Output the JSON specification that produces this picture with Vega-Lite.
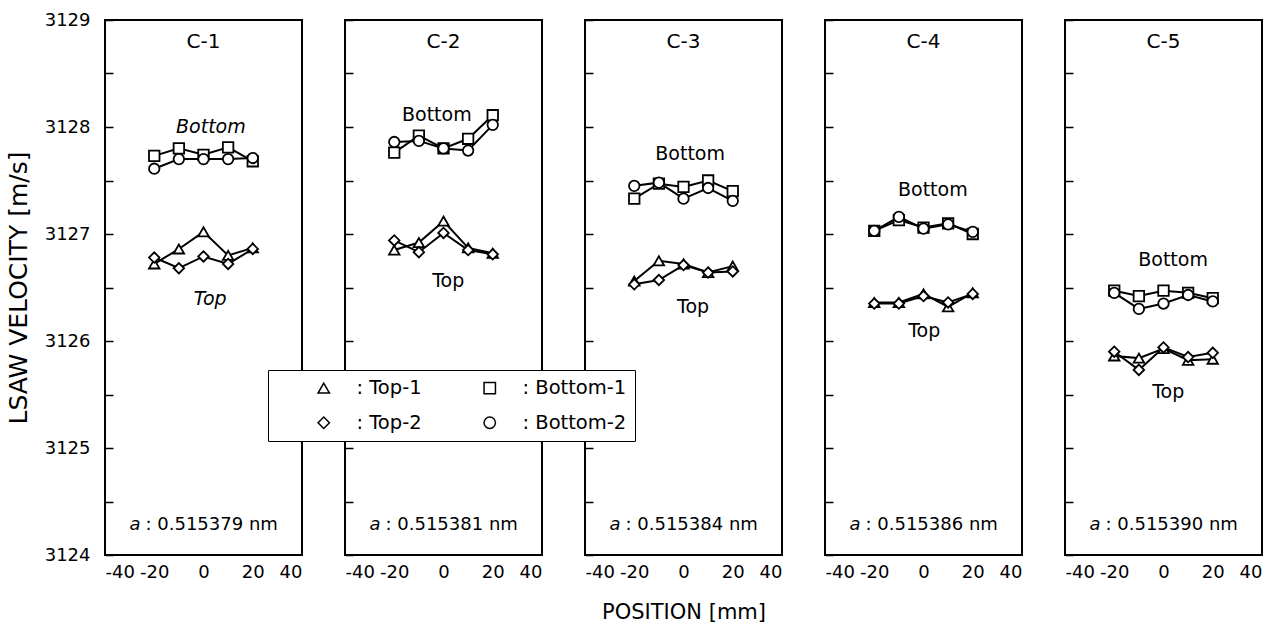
{
  "$schema": "https://vega.github.io/schema/vega-lite/v6.json",
  "background": "white",
  "padding": {"left": 5, "top": 10, "right": 5, "bottom": 2},
  "bounds": "flush",
  "spacing": 43,
  "config": {
    "font": "DejaVu Sans",
    "view": {"stroke": "black", "strokeWidth": 2},
    "axis": {"labelColor": "black", "titleColor": "black", "titleFontWeight": "normal", "grid": false, "domain": false}
  },
  "resolve": {"scale": {"shape": "shared"}, "legend": {"shape": "shared"}},
  "data": {"values": [
    {"p":"C-1","s":"Top-1","x":-20,"v":3126.72},{"p":"C-1","s":"Top-1","x":-10,"v":3126.86},{"p":"C-1","s":"Top-1","x":0,"v":3127.02},{"p":"C-1","s":"Top-1","x":10,"v":3126.80},{"p":"C-1","s":"Top-1","x":20,"v":3126.87},
    {"p":"C-1","s":"Top-2","x":-20,"v":3126.78},{"p":"C-1","s":"Top-2","x":-10,"v":3126.68},{"p":"C-1","s":"Top-2","x":0,"v":3126.79},{"p":"C-1","s":"Top-2","x":10,"v":3126.72},{"p":"C-1","s":"Top-2","x":20,"v":3126.86},
    {"p":"C-1","s":"Bottom-1","x":-20,"v":3127.73},{"p":"C-1","s":"Bottom-1","x":-10,"v":3127.80},{"p":"C-1","s":"Bottom-1","x":0,"v":3127.74},{"p":"C-1","s":"Bottom-1","x":10,"v":3127.81},{"p":"C-1","s":"Bottom-1","x":20,"v":3127.68},
    {"p":"C-1","s":"Bottom-2","x":-20,"v":3127.61},{"p":"C-1","s":"Bottom-2","x":-10,"v":3127.70},{"p":"C-1","s":"Bottom-2","x":0,"v":3127.70},{"p":"C-1","s":"Bottom-2","x":10,"v":3127.70},{"p":"C-1","s":"Bottom-2","x":20,"v":3127.71},

    {"p":"C-2","s":"Top-1","x":-20,"v":3126.85},{"p":"C-2","s":"Top-1","x":-10,"v":3126.92},{"p":"C-2","s":"Top-1","x":0,"v":3127.12},{"p":"C-2","s":"Top-1","x":10,"v":3126.87},{"p":"C-2","s":"Top-1","x":20,"v":3126.82},
    {"p":"C-2","s":"Top-2","x":-20,"v":3126.94},{"p":"C-2","s":"Top-2","x":-10,"v":3126.83},{"p":"C-2","s":"Top-2","x":0,"v":3127.01},{"p":"C-2","s":"Top-2","x":10,"v":3126.85},{"p":"C-2","s":"Top-2","x":20,"v":3126.81},
    {"p":"C-2","s":"Bottom-1","x":-20,"v":3127.76},{"p":"C-2","s":"Bottom-1","x":-10,"v":3127.92},{"p":"C-2","s":"Bottom-1","x":0,"v":3127.80},{"p":"C-2","s":"Bottom-1","x":10,"v":3127.89},{"p":"C-2","s":"Bottom-1","x":20,"v":3128.11},
    {"p":"C-2","s":"Bottom-2","x":-20,"v":3127.86},{"p":"C-2","s":"Bottom-2","x":-10,"v":3127.87},{"p":"C-2","s":"Bottom-2","x":0,"v":3127.80},{"p":"C-2","s":"Bottom-2","x":10,"v":3127.78},{"p":"C-2","s":"Bottom-2","x":20,"v":3128.02},

    {"p":"C-3","s":"Top-1","x":-20,"v":3126.56},{"p":"C-3","s":"Top-1","x":-10,"v":3126.75},{"p":"C-3","s":"Top-1","x":0,"v":3126.72},{"p":"C-3","s":"Top-1","x":10,"v":3126.64},{"p":"C-3","s":"Top-1","x":20,"v":3126.70},
    {"p":"C-3","s":"Top-2","x":-20,"v":3126.53},{"p":"C-3","s":"Top-2","x":-10,"v":3126.57},{"p":"C-3","s":"Top-2","x":0,"v":3126.71},{"p":"C-3","s":"Top-2","x":10,"v":3126.64},{"p":"C-3","s":"Top-2","x":20,"v":3126.65},
    {"p":"C-3","s":"Bottom-1","x":-20,"v":3127.33},{"p":"C-3","s":"Bottom-1","x":-10,"v":3127.47},{"p":"C-3","s":"Bottom-1","x":0,"v":3127.44},{"p":"C-3","s":"Bottom-1","x":10,"v":3127.50},{"p":"C-3","s":"Bottom-1","x":20,"v":3127.40},
    {"p":"C-3","s":"Bottom-2","x":-20,"v":3127.45},{"p":"C-3","s":"Bottom-2","x":-10,"v":3127.48},{"p":"C-3","s":"Bottom-2","x":0,"v":3127.33},{"p":"C-3","s":"Bottom-2","x":10,"v":3127.43},{"p":"C-3","s":"Bottom-2","x":20,"v":3127.31},

    {"p":"C-4","s":"Top-1","x":-20,"v":3126.36},{"p":"C-4","s":"Top-1","x":-10,"v":3126.36},{"p":"C-4","s":"Top-1","x":0,"v":3126.44},{"p":"C-4","s":"Top-1","x":10,"v":3126.32},{"p":"C-4","s":"Top-1","x":20,"v":3126.45},
    {"p":"C-4","s":"Top-2","x":-20,"v":3126.35},{"p":"C-4","s":"Top-2","x":-10,"v":3126.35},{"p":"C-4","s":"Top-2","x":0,"v":3126.42},{"p":"C-4","s":"Top-2","x":10,"v":3126.36},{"p":"C-4","s":"Top-2","x":20,"v":3126.44},
    {"p":"C-4","s":"Bottom-1","x":-20,"v":3127.03},{"p":"C-4","s":"Bottom-1","x":-10,"v":3127.13},{"p":"C-4","s":"Bottom-1","x":0,"v":3127.06},{"p":"C-4","s":"Bottom-1","x":10,"v":3127.10},{"p":"C-4","s":"Bottom-1","x":20,"v":3127.00},
    {"p":"C-4","s":"Bottom-2","x":-20,"v":3127.03},{"p":"C-4","s":"Bottom-2","x":-10,"v":3127.16},{"p":"C-4","s":"Bottom-2","x":0,"v":3127.05},{"p":"C-4","s":"Bottom-2","x":10,"v":3127.09},{"p":"C-4","s":"Bottom-2","x":20,"v":3127.02},

    {"p":"C-5","s":"Top-1","x":-20,"v":3125.86},{"p":"C-5","s":"Top-1","x":-10,"v":3125.84},{"p":"C-5","s":"Top-1","x":0,"v":3125.93},{"p":"C-5","s":"Top-1","x":10,"v":3125.82},{"p":"C-5","s":"Top-1","x":20,"v":3125.83},
    {"p":"C-5","s":"Top-2","x":-20,"v":3125.90},{"p":"C-5","s":"Top-2","x":-10,"v":3125.73},{"p":"C-5","s":"Top-2","x":0,"v":3125.94},{"p":"C-5","s":"Top-2","x":10,"v":3125.85},{"p":"C-5","s":"Top-2","x":20,"v":3125.89},
    {"p":"C-5","s":"Bottom-1","x":-20,"v":3126.47},{"p":"C-5","s":"Bottom-1","x":-10,"v":3126.42},{"p":"C-5","s":"Bottom-1","x":0,"v":3126.47},{"p":"C-5","s":"Bottom-1","x":10,"v":3126.45},{"p":"C-5","s":"Bottom-1","x":20,"v":3126.40},
    {"p":"C-5","s":"Bottom-2","x":-20,"v":3126.45},{"p":"C-5","s":"Bottom-2","x":-10,"v":3126.30},{"p":"C-5","s":"Bottom-2","x":0,"v":3126.35},{"p":"C-5","s":"Bottom-2","x":10,"v":3126.43},{"p":"C-5","s":"Bottom-2","x":20,"v":3126.37}
  ]},
  "hconcat": [
    {
      "width": 197, "height": 535,
      "transform": [{"filter": "datum.p === 'C-1'"}],
      "layer": [
        {"mark": {"type": "line", "color": "black", "strokeWidth": 2},
         "encoding": {
           "x": {"field": "x", "type": "quantitative", "scale": {"domain": [-40, 40], "nice": false},
                 "axis": {"values": [-40, -20, 0, 20, 40], "ticks": false, "labelExpr": "'' + datum.value", "labelFontSize": 18, "labelPadding": 8, "title": null}},
           "y": {"field": "v", "type": "quantitative", "scale": {"domain": [3124, 3129], "nice": false, "zero": false},
                 "axis": {"values": [3124, 3124.5, 3125, 3125.5, 3126, 3126.5, 3127, 3127.5, 3128, 3128.5, 3129], "tickSize": -8, "tickColor": "black", "tickWidth": 1.5,
                          "labelExpr": "datum.value % 1 === 0 ? '' + datum.value : ''", "labelFontSize": 18, "labelPadding": 23,
                          "title": "LSAW VELOCITY [m/s]", "titleFontSize": 25, "titlePadding": 13}},
           "detail": {"field": "s"}}},
        {"mark": {"type": "point", "filled": true, "fill": "white", "stroke": "black", "strokeWidth": 1.8, "size": 110, "opacity": 1},
         "encoding": {
           "x": {"field": "x", "type": "quantitative"},
           "y": {"field": "v", "type": "quantitative"},
           "shape": {"field": "s", "type": "nominal",
             "scale": {"domain": ["Top-1", "Top-2", "Bottom-1", "Bottom-2"], "range": ["triangle-up", "diamond", "square", "circle"]},
             "legend": {"orient": "none", "legendX": 163, "legendY": 350, "columns": 2, "title": null,
               "symbolSize": 130, "symbolOffset": 38,
               "labelFontSize": 19.5, "labelColor": "black", "labelExpr": "': ' + datum.label", "labelOffset": 23,
               "strokeColor": "black", "fillColor": "white", "padding": 8, "rowPadding": 14, "columnPadding": 20}}}},
        {"data": {"values": [{}]}, "mark": {"type": "text", "text": "C-1", "fontSize": 20, "color": "black"}, "encoding": {"x": {"datum": 0}, "y": {"datum": 3128.79}}},
        {"data": {"values": [{}]}, "mark": {"type": "text", "text": "Bottom", "fontSize": 19, "fontStyle": "italic", "color": "black"}, "encoding": {"x": {"datum": 3}, "y": {"datum": 3128.0}}},
        {"data": {"values": [{}]}, "mark": {"type": "text", "text": "Top", "fontSize": 19, "fontStyle": "italic", "color": "black"}, "encoding": {"x": {"datum": 2.7}, "y": {"datum": 3126.39}}},
        {"data": {"values": [{}]}, "mark": {"type": "text", "text": "a", "fontSize": 18, "fontStyle": "italic", "align": "left", "dx": -74, "color": "black"}, "encoding": {"x": {"datum": 0}, "y": {"datum": 3124.28}}},
        {"data": {"values": [{}]}, "mark": {"type": "text", "text": ": 0.515379 nm", "fontSize": 18, "align": "left", "dx": -58, "color": "black"}, "encoding": {"x": {"datum": 0}, "y": {"datum": 3124.28}}}
      ]
    },
    {
      "width": 197, "height": 535,
      "transform": [{"filter": "datum.p === 'C-2'"}],
      "layer": [
        {"mark": {"type": "line", "color": "black", "strokeWidth": 2},
         "encoding": {
           "x": {"field": "x", "type": "quantitative", "scale": {"domain": [-40, 40], "nice": false},
                 "axis": {"values": [-40, -20, 0, 20, 40], "ticks": false, "labelExpr": "'' + datum.value", "labelFontSize": 18, "labelPadding": 8, "title": null}},
           "y": {"field": "v", "type": "quantitative", "scale": {"domain": [3124, 3129], "nice": false, "zero": false},
                 "axis": {"values": [3124, 3124.5, 3125, 3125.5, 3126, 3126.5, 3127, 3127.5, 3128, 3128.5, 3129], "tickSize": -8, "tickColor": "black", "tickWidth": 1.5, "labels": false, "title": null}},
           "detail": {"field": "s"}}},
        {"mark": {"type": "point", "filled": true, "fill": "white", "stroke": "black", "strokeWidth": 1.8, "size": 110, "opacity": 1},
         "encoding": {
           "x": {"field": "x", "type": "quantitative"},
           "y": {"field": "v", "type": "quantitative"},
           "shape": {"field": "s", "type": "nominal", "scale": {"domain": ["Top-1", "Top-2", "Bottom-1", "Bottom-2"], "range": ["triangle-up", "diamond", "square", "circle"]}}}},
        {"data": {"values": [{}]}, "mark": {"type": "text", "text": "C-2", "fontSize": 20, "color": "black"}, "encoding": {"x": {"datum": 0}, "y": {"datum": 3128.79}}},
        {"data": {"values": [{}]}, "mark": {"type": "text", "text": "Bottom", "fontSize": 19, "color": "black"}, "encoding": {"x": {"datum": -2.7}, "y": {"datum": 3128.11}}},
        {"data": {"values": [{}]}, "mark": {"type": "text", "text": "Top", "fontSize": 19, "color": "black"}, "encoding": {"x": {"datum": 1.9}, "y": {"datum": 3126.56}}},
        {"data": {"values": [{}]}, "mark": {"type": "text", "text": "a", "fontSize": 18, "fontStyle": "italic", "align": "left", "dx": -74, "color": "black"}, "encoding": {"x": {"datum": 0}, "y": {"datum": 3124.28}}},
        {"data": {"values": [{}]}, "mark": {"type": "text", "text": ": 0.515381 nm", "fontSize": 18, "align": "left", "dx": -58, "color": "black"}, "encoding": {"x": {"datum": 0}, "y": {"datum": 3124.28}}}
      ]
    },
    {
      "width": 197, "height": 535,
      "transform": [{"filter": "datum.p === 'C-3'"}],
      "layer": [
        {"mark": {"type": "line", "color": "black", "strokeWidth": 2},
         "encoding": {
           "x": {"field": "x", "type": "quantitative", "scale": {"domain": [-40, 40], "nice": false},
                 "axis": {"values": [-40, -20, 0, 20, 40], "ticks": false, "labelExpr": "'' + datum.value", "labelFontSize": 18, "labelPadding": 8, "title": "POSITION [mm]", "titleFontSize": 21, "titlePadding": 20}},
           "y": {"field": "v", "type": "quantitative", "scale": {"domain": [3124, 3129], "nice": false, "zero": false},
                 "axis": {"values": [3124, 3124.5, 3125, 3125.5, 3126, 3126.5, 3127, 3127.5, 3128, 3128.5, 3129], "tickSize": -8, "tickColor": "black", "tickWidth": 1.5, "labels": false, "title": null}},
           "detail": {"field": "s"}}},
        {"mark": {"type": "point", "filled": true, "fill": "white", "stroke": "black", "strokeWidth": 1.8, "size": 110, "opacity": 1},
         "encoding": {
           "x": {"field": "x", "type": "quantitative"},
           "y": {"field": "v", "type": "quantitative"},
           "shape": {"field": "s", "type": "nominal", "scale": {"domain": ["Top-1", "Top-2", "Bottom-1", "Bottom-2"], "range": ["triangle-up", "diamond", "square", "circle"]}}}},
        {"data": {"values": [{}]}, "mark": {"type": "text", "text": "C-3", "fontSize": 20, "color": "black"}, "encoding": {"x": {"datum": 0}, "y": {"datum": 3128.79}}},
        {"data": {"values": [{}]}, "mark": {"type": "text", "text": "Bottom", "fontSize": 19, "color": "black"}, "encoding": {"x": {"datum": 2.7}, "y": {"datum": 3127.75}}},
        {"data": {"values": [{}]}, "mark": {"type": "text", "text": "Top", "fontSize": 19, "color": "black"}, "encoding": {"x": {"datum": 3.9}, "y": {"datum": 3126.32}}},
        {"data": {"values": [{}]}, "mark": {"type": "text", "text": "a", "fontSize": 18, "fontStyle": "italic", "align": "left", "dx": -74, "color": "black"}, "encoding": {"x": {"datum": 0}, "y": {"datum": 3124.28}}},
        {"data": {"values": [{}]}, "mark": {"type": "text", "text": ": 0.515384 nm", "fontSize": 18, "align": "left", "dx": -58, "color": "black"}, "encoding": {"x": {"datum": 0}, "y": {"datum": 3124.28}}}
      ]
    },
    {
      "width": 197, "height": 535,
      "transform": [{"filter": "datum.p === 'C-4'"}],
      "layer": [
        {"mark": {"type": "line", "color": "black", "strokeWidth": 2},
         "encoding": {
           "x": {"field": "x", "type": "quantitative", "scale": {"domain": [-40, 40], "nice": false},
                 "axis": {"values": [-40, -20, 0, 20, 40], "ticks": false, "labelExpr": "'' + datum.value", "labelFontSize": 18, "labelPadding": 8, "title": null}},
           "y": {"field": "v", "type": "quantitative", "scale": {"domain": [3124, 3129], "nice": false, "zero": false},
                 "axis": {"values": [3124, 3124.5, 3125, 3125.5, 3126, 3126.5, 3127, 3127.5, 3128, 3128.5, 3129], "tickSize": -8, "tickColor": "black", "tickWidth": 1.5, "labels": false, "title": null}},
           "detail": {"field": "s"}}},
        {"mark": {"type": "point", "filled": true, "fill": "white", "stroke": "black", "strokeWidth": 1.8, "size": 110, "opacity": 1},
         "encoding": {
           "x": {"field": "x", "type": "quantitative"},
           "y": {"field": "v", "type": "quantitative"},
           "shape": {"field": "s", "type": "nominal", "scale": {"domain": ["Top-1", "Top-2", "Bottom-1", "Bottom-2"], "range": ["triangle-up", "diamond", "square", "circle"]}}}},
        {"data": {"values": [{}]}, "mark": {"type": "text", "text": "C-4", "fontSize": 20, "color": "black"}, "encoding": {"x": {"datum": 0}, "y": {"datum": 3128.79}}},
        {"data": {"values": [{}]}, "mark": {"type": "text", "text": "Bottom", "fontSize": 19, "color": "black"}, "encoding": {"x": {"datum": 3.8}, "y": {"datum": 3127.41}}},
        {"data": {"values": [{}]}, "mark": {"type": "text", "text": "Top", "fontSize": 19, "color": "black"}, "encoding": {"x": {"datum": 0.3}, "y": {"datum": 3126.09}}},
        {"data": {"values": [{}]}, "mark": {"type": "text", "text": "a", "fontSize": 18, "fontStyle": "italic", "align": "left", "dx": -74, "color": "black"}, "encoding": {"x": {"datum": 0}, "y": {"datum": 3124.28}}},
        {"data": {"values": [{}]}, "mark": {"type": "text", "text": ": 0.515386 nm", "fontSize": 18, "align": "left", "dx": -58, "color": "black"}, "encoding": {"x": {"datum": 0}, "y": {"datum": 3124.28}}}
      ]
    },
    {
      "width": 197, "height": 535,
      "transform": [{"filter": "datum.p === 'C-5'"}],
      "layer": [
        {"mark": {"type": "line", "color": "black", "strokeWidth": 2},
         "encoding": {
           "x": {"field": "x", "type": "quantitative", "scale": {"domain": [-40, 40], "nice": false},
                 "axis": {"values": [-40, -20, 0, 20, 40], "ticks": false, "labelExpr": "'' + datum.value", "labelFontSize": 18, "labelPadding": 8, "title": null}},
           "y": {"field": "v", "type": "quantitative", "scale": {"domain": [3124, 3129], "nice": false, "zero": false},
                 "axis": {"values": [3124, 3124.5, 3125, 3125.5, 3126, 3126.5, 3127, 3127.5, 3128, 3128.5, 3129], "tickSize": -8, "tickColor": "black", "tickWidth": 1.5, "labels": false, "title": null}},
           "detail": {"field": "s"}}},
        {"mark": {"type": "point", "filled": true, "fill": "white", "stroke": "black", "strokeWidth": 1.8, "size": 110, "opacity": 1},
         "encoding": {
           "x": {"field": "x", "type": "quantitative"},
           "y": {"field": "v", "type": "quantitative"},
           "shape": {"field": "s", "type": "nominal", "scale": {"domain": ["Top-1", "Top-2", "Bottom-1", "Bottom-2"], "range": ["triangle-up", "diamond", "square", "circle"]}}}},
        {"data": {"values": [{}]}, "mark": {"type": "text", "text": "C-5", "fontSize": 20, "color": "black"}, "encoding": {"x": {"datum": 0}, "y": {"datum": 3128.79}}},
        {"data": {"values": [{}]}, "mark": {"type": "text", "text": "Bottom", "fontSize": 19, "color": "black"}, "encoding": {"x": {"datum": 3.9}, "y": {"datum": 3126.76}}},
        {"data": {"values": [{}]}, "mark": {"type": "text", "text": "Top", "fontSize": 19, "color": "black"}, "encoding": {"x": {"datum": 1.9}, "y": {"datum": 3125.52}}},
        {"data": {"values": [{}]}, "mark": {"type": "text", "text": "a", "fontSize": 18, "fontStyle": "italic", "align": "left", "dx": -74, "color": "black"}, "encoding": {"x": {"datum": 0}, "y": {"datum": 3124.28}}},
        {"data": {"values": [{}]}, "mark": {"type": "text", "text": ": 0.515390 nm", "fontSize": 18, "align": "left", "dx": -58, "color": "black"}, "encoding": {"x": {"datum": 0}, "y": {"datum": 3124.28}}}
      ]
    }
  ]
}
